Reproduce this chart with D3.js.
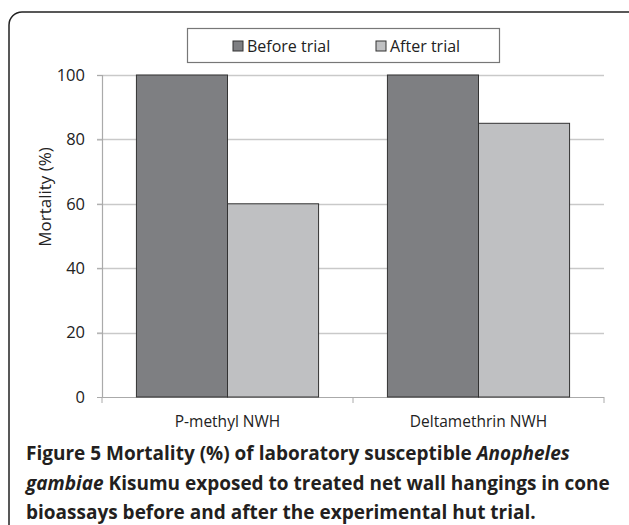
<!DOCTYPE html>
<html>
<head>
<meta charset="utf-8">
<script src="https://cdn.jsdelivr.net/npm/d3@7"></script>
<style>
  body { margin: 0; background: #fff; }
  svg { display: block; }
</style>
</head>
<body>
<svg id="chart"></svg>
<script>
// data
const categories = ['P-methyl NWH', 'Deltamethrin NWH'];
const seriesNames = ['Before trial', 'After trial'];
const beforeTrial = [100, 100];
const afterTrial = [60, 85];
const yTicks = [0, 20, 40, 60, 80, 100];
const seriesColors = ['#7e7f82', '#bfc0c2'];

const W = 629, H = 525;
const svg = d3.select("#chart").attr("width", W).attr("height", H);

// outer frame, rounded corner top-left (runs off the page right/bottom)
svg.append("rect")
    .attr("x", 9).attr("y", 12)
    .attr("width", 700).attr("height", 600)
    .attr("rx", 13)
    .attr("fill", "none")
    .attr("stroke", "#222")
    .attr("stroke-width", 1.5);

// plot area
const plot = { left: 102, right: 604, top: 75, bottom: 397 };

const x = d3.scaleBand()
    .domain(categories)
    .range([plot.left, plot.right])
    .paddingInner(0)
    .paddingOuter(0);

const x1 = d3.scaleBand()
    .domain(seriesNames)
    .range([0, x.bandwidth()])
    .paddingInner(0)
    .paddingOuter(0.378);

const y = d3.scaleLinear().domain([0, 100]).range([plot.bottom, plot.top]);

const font = "'Open Sans', 'Noto Sans', sans-serif";

// gridlines
svg.append("g")
    .selectAll("line")
    .data(yTicks.filter(d => d > 0))
    .enter().append("line")
    .attr("x1", plot.left - 5).attr("x2", plot.right)
    .attr("y1", d => Math.round(y(d)) + 0.5).attr("y2", d => Math.round(y(d)) + 0.5)
    .attr("stroke", "#c9c9c9")
    .attr("stroke-width", 1.5);

// y axis
const yAxis = svg.append("g")
    .attr("transform", `translate(${plot.left},0)`)
    .call(d3.axisLeft(y).tickValues(yTicks).tickSize(5).tickPadding(12));
yAxis.select(".domain").attr("stroke", "#aaa").attr("stroke-width", 1.2);
yAxis.selectAll(".tick line").attr("stroke", "#aaa");
yAxis.selectAll("text")
    .attr("font-family", font).attr("font-size", 16.5).attr("fill", "#222");

// y title
svg.append("text")
    .attr("transform", "translate(51,197) rotate(-90)")
    .attr("text-anchor", "middle")
    .attr("font-family", font).attr("font-size", 17).attr("fill", "#222")
    .text("Mortality (%)");

// x axis
const xAxis = svg.append("g")
    .attr("transform", `translate(0,${plot.bottom})`);
xAxis.append("line")
    .attr("x1", plot.left).attr("x2", plot.right)
    .attr("y1", 0.5).attr("y2", 0.5)
    .attr("stroke", "#aaa").attr("stroke-width", 1.2);
xAxis.selectAll(".xtick")
    .data([plot.left, plot.left + x.bandwidth(), plot.right])
    .enter().append("line")
    .attr("x1", d => d).attr("x2", d => d)
    .attr("y1", 0).attr("y2", 6)
    .attr("stroke", "#aaa");
xAxis.selectAll(".xlabel")
    .data(categories)
    .enter().append("text")
    .attr("x", d => x(d) + x.bandwidth() / 2)
    .attr("y", 30)
    .attr("text-anchor", "middle")
    .attr("font-family", font).attr("font-size", 15.5).attr("fill", "#222")
    .text(d => d);

// bars
const rows = categories.map((c, i) => ({ cat: c, values: [beforeTrial[i], afterTrial[i]] }));
const groups = svg.append("g")
    .selectAll("g")
    .data(rows)
    .enter().append("g")
    .attr("transform", d => `translate(${x(d.cat)},0)`);

groups.selectAll("rect")
    .data(d => d.values.map((v, j) => ({ name: seriesNames[j], value: v, j: j })))
    .enter().append("rect")
    .attr("x", d => x1(d.name))
    .attr("y", d => y(d.value))
    .attr("width", x1.bandwidth())
    .attr("height", d => y(0) - y(d.value))
    .attr("fill", d => seriesColors[d.j])
    .attr("stroke", "#333")
    .attr("stroke-width", 1);

// legend
const legend = svg.append("g");
legend.append("rect")
    .attr("x", 187.5).attr("y", 28.5)
    .attr("width", 312).attr("height", 34)
    .attr("fill", "#fff")
    .attr("stroke", "#777").attr("stroke-width", 1.2);

const legendX = [233, 376];
const item = legend.selectAll(".item")
    .data(seriesNames)
    .enter().append("g")
    .attr("transform", (d, i) => `translate(${legendX[i]},41)`);
item.append("rect")
    .attr("width", 10).attr("height", 10)
    .attr("fill", (d, i) => seriesColors[i])
    .attr("stroke", "#333");
item.append("text")
    .attr("x", 14).attr("y", 11)
    .attr("font-family", font).attr("font-size", 16).attr("fill", "#222")
    .text(d => d);

// caption
const caption = svg.append("text")
    .attr("font-family", font).attr("font-size", 19).attr("font-weight", "bold")
    .attr("fill", "#231f20");
const capLines = [
    [["Figure 5", "normal"], [" Mortality (%) of laboratory susceptible ", "normal"], ["Anopheles", "italic"]],
    [["gambiae", "italic"], [" Kisumu exposed to treated net wall hangings in cone", "normal"]],
    [["bioassays before and after the experimental hut trial.", "normal"]]
];
const capY = [460, 490, 519];
capLines.forEach((line, i) => {
    const t = caption.append("tspan").attr("x", 26).attr("y", capY[i]);
    line.forEach((seg, k) => {
        (k === 0 ? t : caption.append("tspan"))
            .attr("font-style", seg[1])
            .text(seg[0]);
    });
});
</script>
</body>
</html>
